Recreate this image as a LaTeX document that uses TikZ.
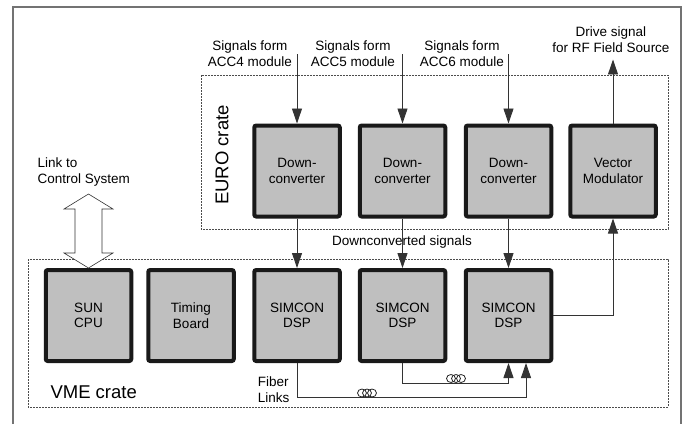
\documentclass[tikz,border=0pt]{standalone}
\usepackage{fontspec}
\setmainfont{Liberation Sans}
\usetikzlibrary{arrows.meta,calc}

\tikzset{
  board/.style={draw=black!90, fill=black!25, line width=4pt, rounded corners=2pt,
    minimum width=85.5pt, minimum height=91pt, align=center,
    font=\fontsize{13.5}{15.5}\selectfont},
  crate/.style={draw=black!70, line width=0.6pt, dash pattern=on 2pt off 1pt},
  sig/.style={draw=black!80, line width=0.9pt, -{Triangle[width=10pt,length=15pt]}},
  lbl/.style={align=center, font=\fontsize{13.5}{16}\selectfont},
  big/.style={font=\fontsize{18.5}{22}\selectfont}
}

\begin{document}
\begin{tikzpicture}[x=1pt,y=-1pt]
\useasboundingbox (0,0) rectangle (683,424);

% frame and crates
\draw [black!55, line width=1.5pt] (13,424) -- (13,7) -- (681,7) -- (681,424);
\draw [crate] (201,75) rectangle (668,229);
\draw [crate] (28,259) rectangle (668,407);

\node[big, rotate=90] (euro) at (222,155) {EURO crate};
\node[big, anchor=west] (vme) at (47,392) {VME crate};

% EURO crate boards
\node[board] (dc1) at (297,171) {Down-\\converter};
\node[board] (dc2) at (402.5,171) {Down-\\converter};
\node[board] (dc3) at (508.5,171) {Down-\\converter};
\node[board] (vm) at (613,171) {Vector\\Modulator};

% VME crate boards
\node[board] (cpu) at (88.5,315.5) {SUN\\CPU};
\node[board] (tim) at (191,315.5) {Timing\\Board};
\node[board] (dsp1) at (297,315.5) {SIMCON\\DSP};
\node[board] (dsp2) at (402.5,315.5) {SIMCON\\DSP};
\node[board] (dsp3) at (508.5,315.5) {SIMCON\\DSP};

% inputs and output
\node[lbl] (acc4) at (250,54) {Signals form\\ACC4 module};
\node[lbl] (acc5) at (353,54) {Signals form\\ACC5 module};
\node[lbl] (acc6) at (462,54) {Signals form\\ACC6 module};
\node[lbl] (drv) at (611,40) {Drive signal\\for RF Field Source};

\draw [sig] (dc1.north |- acc4.center) -- (dc1.north);
\draw [sig] (dc2.north |- acc5.center) -- (dc2.north);
\draw [sig] (dc3.north |- acc6.center) -- (dc3.north);
\draw [sig] (vm.north) -- ([yshift=-3pt]vm.north |- drv.south);

% downconverted signals
\node[lbl] (dcs) at (402,242) {Downconverted signals};
\draw [sig] (dc1) -- (dsp1);
\draw [sig] (dc2) -- (dsp2);
\draw [sig] (dc3) -- (dsp3);
\draw [sig] (dsp3.east) -| (vm.south);

% fiber links
\node[lbl, align=left, anchor=east] (fib) at (293,390) {Fiber\\Links};
\draw [sig] (dsp1.south) -- ++(0,34) -| ([xshift=17.5pt]dsp3.south);
\draw [sig] (dsp2.south) -- ++(0,20) -| (dsp3.south);
\foreach \cx/\cy in {367/393, 456/378.5}
  \foreach \d in {-5,0,5}
    \draw [black!85, line width=0.8pt] (\cx+\d,\cy) ellipse [x radius=4.5pt, y radius=4pt];

% link to control system
\node[lbl, align=left, anchor=west] (link) at (34,172) {Link to\\Control System};
\draw [black!80, line width=0.6pt, fill=white, shift={(cpu.north)}]
  (0,0) -- (-24.5,-15) -- (-13.5,-15) -- (-13.5,-59) -- (-24.5,-59) -- (0,-74)
  -- (24.5,-59) -- (13.5,-59) -- (13.5,-15) -- (24.5,-15) -- cycle;

\end{tikzpicture}
\end{document}
